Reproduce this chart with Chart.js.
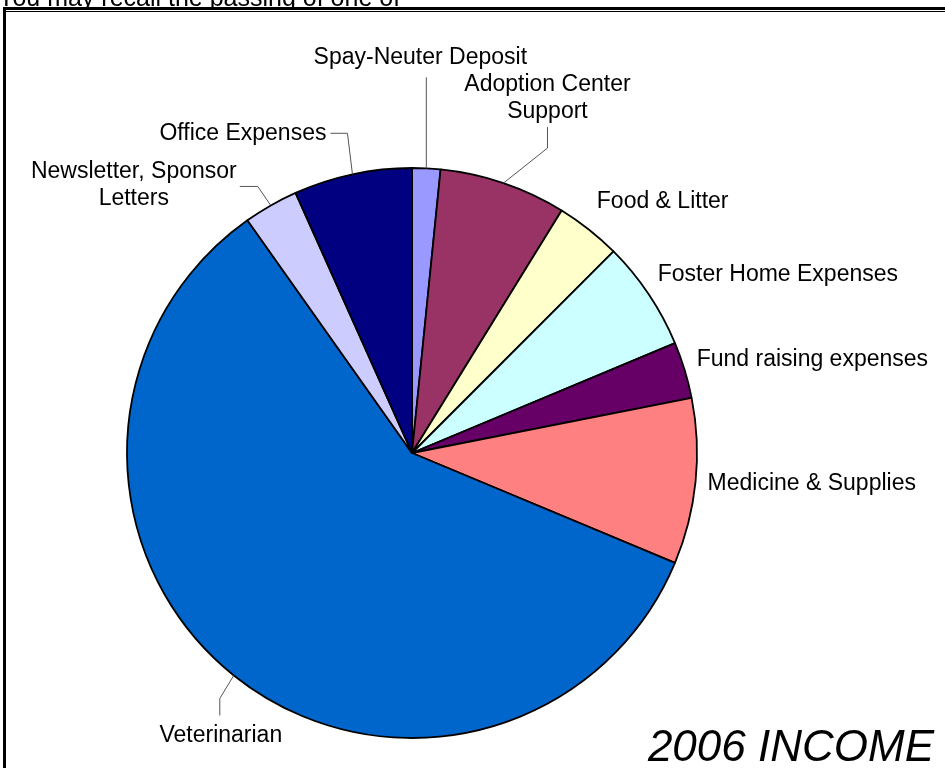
<!DOCTYPE html>
<html>
<head>
<meta charset="utf-8">
<title>2006 Income</title>
<script src="https://cdn.jsdelivr.net/npm/chart.js@4/dist/chart.umd.min.js"></script>
<style>
  html, body { margin: 0; padding: 0; background: #fff; overflow: hidden; }
  #wrap { position: absolute; left: 0; top: 0; width: 945px; height: 768px; }
</style>
</head>
<body>
<div id="wrap"><canvas id="incomeChart" width="945" height="768"></canvas></div>
<script>
'use strict';

/* --------------------------------------------------------------------------
   DATA (percent of total)
   -------------------------------------------------------------------------- */
const categories = [
    'Spay-Neuter Deposit',
    'Adoption Center Support',
    'Food & Litter',
    'Foster Home Expenses',
    'Fund raising expenses',
    'Medicine & Supplies',
    'Veterinarian',
    'Newsletter, Sponsor Letters',
    'Office Expenses',
];
const shares = [1.6, 7.2, 3.7, 6.2, 3.2, 9.4, 58.9, 3.1, 6.7];
const sliceColors = ['#9999FF', '#993366', '#FFFFCC', '#CCFFFF', '#660066', '#FF8080', '#0066CC', '#CCCCFF', '#000080'];
const labelLines = [
    ['Spay-Neuter Deposit'],
    ['Adoption Center', 'Support'],
    ['Food & Litter'],
    ['Foster Home Expenses'],
    ['Fund raising expenses'],
    ['Medicine & Supplies'],
    ['Veterinarian'],
    ['Newsletter, Sponsor', 'Letters'],
    ['Office Expenses'],
];
const chartTitle = '2006 INCOME';
const introText = 'You may recall the passing of one of';

/* --------------------------------------------------------------------------
   LABEL LAYOUT — offsets from each slice's outer mid point
   -------------------------------------------------------------------------- */
const labelLayout = [
    { dx: -6,   dy: -111, align: 'center', leader: [[0, -91]] },
    { dx: 44,   dy: -85,  align: 'center', leader: [[44, -35], [44, -56]] },
    { dx: 8,    dy: -28,  align: 'left',   leader: [] },
    { dx: 9,    dy: -20,  align: 'left',   leader: [] },
    { dx: 12,   dy: -10,  align: 'left',   leader: [] },
    { dx: 12,   dy: 2,    align: 'left',   leader: [] },
    { dx: -13,  dy: 60,   align: 'center', leader: [[-14, 23], [-14, 40]] },
    { dx: -137, dy: -20,  align: 'center', leader: [[-13, -19], [-31, -19]] },
    { dx: -26,  dy: -41,  align: 'right',  leader: [[-5, -41], [-22, -41]] },
];

const LABEL_FONT = '23px "Liberation Sans", Arial, sans-serif';
const LINE_H = 27;

/* --------------------------------------------------------------------------
   PLUGINS
   -------------------------------------------------------------------------- */
const framePlugin = {
    id: 'frame',
    beforeDraw(chart) {
        const c = chart.ctx;
        c.save();
        // page text running behind the chart frame, cut off at the top
        c.fillStyle = '#000';
        c.font = '25px "Liberation Sans", Arial, sans-serif';
        c.textBaseline = 'alphabetic';
        c.textAlign = 'left';
        c.fillText(introText, -2, 6);
        c.fillStyle = '#fff';
        c.fillRect(0, 7, chart.width, chart.height);
        c.fillStyle = '#000';
        c.fillRect(3, 7, chart.width, 3);
        c.fillRect(3, 11, chart.width, 1);
        c.fillRect(3, 7, 3, chart.height);
        c.restore();
    },
};

const outerLabels = {
    id: 'outerLabels',
    afterDatasetsDraw(chart) {
        const c = chart.ctx;
        const meta = chart.getDatasetMeta(0);
        c.save();
        c.font = LABEL_FONT;
        c.textBaseline = 'middle';
        meta.data.forEach((arc, i) => {
            const p = arc.getProps(['x', 'y', 'startAngle', 'endAngle', 'outerRadius'], true);
            const mid = (p.startAngle + p.endAngle) / 2;
            const ax = p.x + Math.cos(mid) * p.outerRadius;
            const ay = p.y + Math.sin(mid) * p.outerRadius;
            const lay = labelLayout[i];

            if (lay.leader.length) {
                c.strokeStyle = '#555';
                c.lineWidth = 1;
                c.beginPath();
                c.moveTo(ax, ay);
                lay.leader.forEach(([ox, oy]) => c.lineTo(ax + ox, ay + oy));
                c.stroke();
            }

            const lines = labelLines[i];
            const top = ay + lay.dy - (lines.length - 1) * LINE_H / 2;
            c.fillStyle = '#000';
            c.textAlign = lay.align;
            lines.forEach((t, k) => c.fillText(t, ax + lay.dx, top + k * LINE_H));
        });

        c.font = 'italic 44px "Liberation Sans", Arial, sans-serif';
        c.textAlign = 'right';
        c.textBaseline = 'alphabetic';
        c.fillText(chartTitle, 934, 761);
        c.restore();
    },
};

/* --------------------------------------------------------------------------
   CHART
   -------------------------------------------------------------------------- */
new Chart(document.getElementById('incomeChart').getContext('2d'), {
    type: 'pie',
    data: {
        labels: categories,
        datasets: [{
            data: shares,
            backgroundColor: sliceColors,
            borderColor: '#000',
            borderWidth: 1.8,
            radius: 285,
        }],
    },
    options: {
        responsive: false,
        animation: false,
        layout: { padding: { left: 112, right: 233, top: 153, bottom: 15 } },
        plugins: {
            legend: { display: false },
            tooltip: { enabled: false },
        },
    },
    plugins: [framePlugin, outerLabels],
});
</script>
</body>
</html>
